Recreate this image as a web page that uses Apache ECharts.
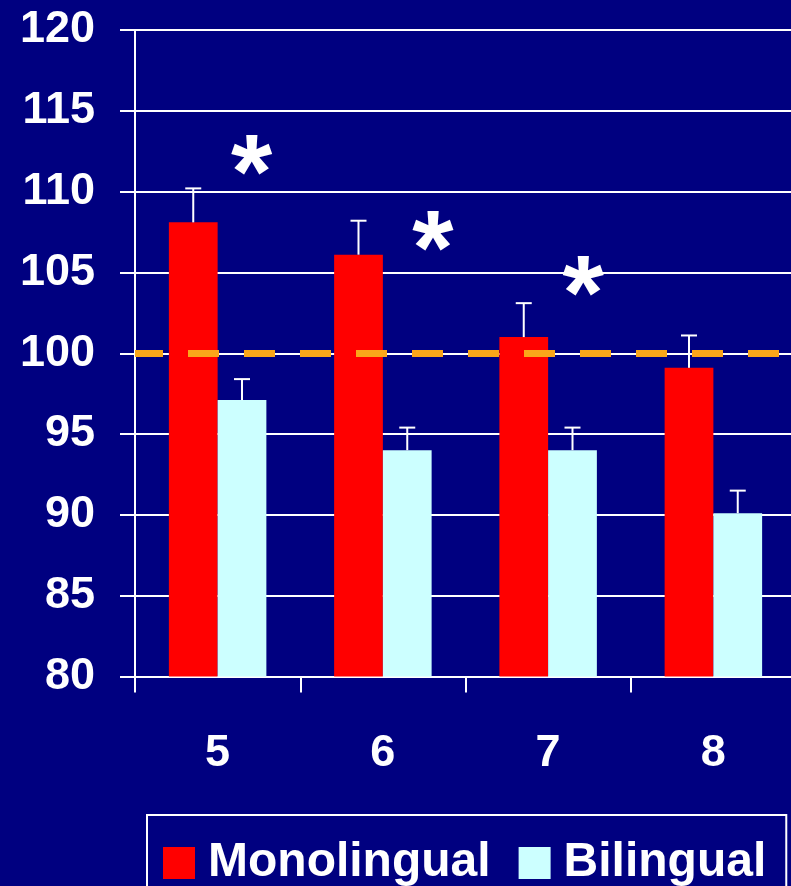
<!DOCTYPE html>
<html>
<head>
<meta charset="utf-8">
<script src="https://cdn.jsdelivr.net/npm/echarts@6/dist/echarts.min.js"></script>
<style>
  html, body { margin: 0; padding: 0; background: #000080; }
  #chart { width: 791px; height: 886px; }
</style>
</head>
<body>
<div id="chart"></div>
<script>
// Age groups and mean scores
const categories = ['5', '6', '7', '8'];
const monolingual = [108.1, 106.1, 101, 99.1];
const monolingualUpper = [110.2, 108.2, 103.1, 101.1];
const bilingual = [97.1, 94, 94, 90.1];
const bilingualUpper = [98.4, 95.4, 95.4, 91.5];
// Height of the significance asterisks (null = no marker)
const starLevel = [112.3, 107.6, 104.8, null];
const yTicks = [80, 85, 90, 95, 100, 105, 110, 115, 120];
const reference = 100;

const FONT = '"Liberation Sans", Arial, sans-serif';
const GAP = 0.41;

function errorBar(side) {
  return function (params, api) {
    const idx = api.value(0);
    const top = api.coord([idx, api.value(1)]);
    const base = api.coord([idx, api.value(2)]);
    const band = api.size([1, 0])[0];
    const bw = band * (1 - GAP) / 2;
    const x = base[0] + side * bw / 2;
    const st = { stroke: '#ffffff', lineWidth: 2 };
    return {
      type: 'group',
      children: [
        { type: 'line', shape: { x1: x, y1: base[1], x2: x, y2: top[1] }, style: st },
        { type: 'line', shape: { x1: x - 8, y1: top[1], x2: x + 8, y2: top[1] }, style: st }
      ]
    };
  };
}

const chart = echarts.init(document.getElementById('chart'));
chart.setOption({
  backgroundColor: '#000080',
  animation: false,
  grid: {
    left: 135, top: 30, width: 661, bottom: 209.5,
    containLabel: false, outerBoundsMode: 'none'
  },
  legend: {
    data: ['Monolingual', 'Bilingual'],
    left: 147,
    top: 815,
    orient: 'horizontal',
    icon: 'rect',
    itemWidth: 32,
    itemHeight: 32,
    itemGap: 28,
    padding: [24, 20, 40, 16],
    borderColor: '#ffffff',
    borderWidth: 2,
    selectedMode: false,
    textStyle: {
      color: '#ffffff', fontSize: 48, fontWeight: 'bold', fontFamily: FONT,
      padding: [0, 0, 0, 8]
    }
  },
  xAxis: {
    type: 'category',
    data: categories,
    axisLine: { lineStyle: { color: '#ffffff', width: 2 } },
    axisTick: { show: true, length: 16, lineStyle: { color: '#ffffff', width: 2 } },
    axisLabel: { color: '#ffffff', fontSize: 45, fontWeight: 'bold', fontFamily: FONT, margin: 55 },
    splitLine: { show: false }
  },
  yAxis: {
    type: 'value',
    min: yTicks[0],
    max: yTicks[yTicks.length - 1],
    interval: 5,
    axisLine: { show: true, lineStyle: { color: '#ffffff', width: 2 } },
    axisTick: { show: true, length: 15, lineStyle: { color: '#ffffff', width: 2 } },
    axisLabel: { color: '#ffffff', fontSize: 45, fontWeight: 'bold', fontFamily: FONT, margin: 40 },
    splitLine: { show: true, lineStyle: { color: '#ffffff', width: 2 } }
  },
  series: [
    {
      name: 'Monolingual',
      type: 'bar',
      data: monolingual,
      barGap: '0%',
      barCategoryGap: (GAP * 100) + '%',
      itemStyle: { color: '#ff0000' },
      z: 2
    },
    {
      name: 'Bilingual',
      type: 'bar',
      data: bilingual,
      barGap: '0%',
      barCategoryGap: (GAP * 100) + '%',
      itemStyle: { color: '#ccffff' },
      z: 2
    },
    {
      name: 'ref',
      type: 'line',
      data: [],
      z: 5,
      markLine: {
        silent: true,
        symbol: ['none', 'none'],
        label: { show: false },
        lineStyle: { color: '#faa61a', width: 7, type: [31, 25], dashOffset: 3, opacity: 1 },
        emphasis: { disabled: true },
        data: [{ yAxis: reference }]
      }
    },
    {
      name: 'errMono',
      type: 'custom',
      renderItem: errorBar(-1),
      data: categories.map((c, i) => [i, monolingualUpper[i], monolingual[i]]),
      z: 6
    },
    {
      name: 'errBili',
      type: 'custom',
      renderItem: errorBar(1),
      data: categories.map((c, i) => [i, bilingualUpper[i], bilingual[i]]),
      z: 6
    },
    {
      name: 'stars',
      type: 'scatter',
      symbolSize: 0,
      z: 7,
      itemStyle: { opacity: 1 },
      data: starLevel.map((v, i) => ({
        value: v,
        label: { offset: [[34, 50, 35, 0][i], 24] }
      })),
      label: {
        show: true,
        position: 'inside',
        formatter: '*',
        color: '#ffffff',
        opacity: 1,
        fontSize: 106,
        fontWeight: 'bold',
        fontFamily: FONT
      }
    }
  ]
});
</script>
</body>
</html>
